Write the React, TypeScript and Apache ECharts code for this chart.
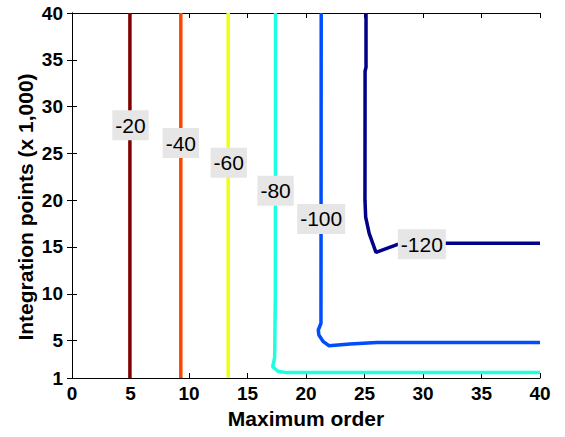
import React, { useEffect, useRef } from "react";
import * as echarts from "echarts";

// Contour levels and their colours (jet colormap)
const levels = [-20, -40, -60, -80, -100, -120];
const levelColors = ["#800000", "#ff4600", "#eeff10", "#1effe0", "#004cff", "#000088"];

// Contour line vertices [maximum order, integration points (x1000)]
const contour20 = [[4.95, 1], [4.95, 40]];
const contour40 = [[9.3, 1], [9.3, 40]];
const contour60 = [[13.35, 1], [13.35, 40]];
const contour80 = [[17.4, 40], [17.38, 10], [17.32, 3.2], [17.15, 2.2], [17.6, 1.72], [18.2, 1.6], [40, 1.6]];
const contour100 = [[21.3, 40], [21.28, 6.85], [21.05, 6.13], [21.1, 5.6], [21.48, 4.88], [21.97, 4.45], [23.76, 4.63], [26.04, 4.8], [40, 4.8]];
const contour120 = [[25.13, 40], [25.13, 34.2], [25.05, 33.8], [25.04, 20], [25.1, 18.2], [25.4, 16.46], [25.98, 14.43], [27.84, 15.28], [31.97, 15.39], [40, 15.39]];
const contours = [contour20, contour40, contour60, contour80, contour100, contour120];

// Contour label positions
const labelX = [5.0, 9.3, 13.4, 17.4, 21.3, 29.9];
const labelY = [28.0, 26.1, 24.0, 21.0, 18.0, 15.3];

// Axis ticks and titles
const xTicks = [0, 5, 10, 15, 20, 25, 30, 35, 40];
const yTicks = [1, 5, 10, 15, 20, 25, 30, 35, 40];
const xTitle = "Maximum order";
const yTitle = "Integration points (x 1,000)";

const FONT = "'Liberation Sans', Arial, sans-serif";

export default function App() {
  const ref = useRef<HTMLDivElement>(null);
  useEffect(() => {
    if (!ref.current) return;
    const chart = echarts.init(ref.current, undefined, { renderer: "svg" });
    const tickStyle = { show: true, inside: true, length: 5, lineStyle: { color: "#000", width: 1 } };
    const lineStyle = { show: true, lineStyle: { color: "#000", width: 1 } };
    const labelStyle = { color: "#000", fontSize: 19, fontWeight: "bold", fontFamily: FONT };
    const lineSeries = contours.map((pts, i) => ({
      type: "line",
      xAxisIndex: 0,
      yAxisIndex: 0,
      data: pts,
      symbol: "none",
      smooth: false,
      z: 2,
      lineStyle: { color: levelColors[i], width: 3.5 },
    }));
    chart.setOption({
      animation: false,
      grid: { left: 72, right: 25, top: 13, bottom: 59, containLabel: false },
      graphic: [
        {
          type: "text",
          x: 25,
          y: 207,
          rotation: Math.PI / 2,
          style: {
            text: yTitle,
            fill: "#000",
            font: `bold 21px ${FONT}`,
            textAlign: "center",
            textVerticalAlign: "middle",
          },
        },
      ],
      xAxis: [
        {
          type: "value",
          min: xTicks[0],
          max: xTicks[xTicks.length - 1],
          interval: 5,
          position: "bottom",
          axisLine: lineStyle,
          axisTick: tickStyle,
          splitLine: { show: false },
          axisLabel: { ...labelStyle, margin: 6 },
          name: xTitle,
          nameLocation: "middle",
          nameGap: 27,
          nameTextStyle: { color: "#000", fontSize: 21, fontWeight: "bold", fontFamily: FONT },
        },
        {
          type: "value",
          min: xTicks[0],
          max: xTicks[xTicks.length - 1],
          interval: 5,
          position: "top",
          axisLine: lineStyle,
          axisTick: tickStyle,
          splitLine: { show: false },
          axisLabel: { show: false },
        },
      ],
      yAxis: [
        {
          type: "value",
          min: 1,
          max: 40,
          position: "left",
          axisLine: lineStyle,
          axisTick: { ...tickStyle, customValues: yTicks },
          splitLine: { show: false },
          axisLabel: { ...labelStyle, margin: 9, customValues: yTicks },
        },
        {
          type: "value",
          min: 1,
          max: 40,
          position: "right",
          axisLine: lineStyle,
          axisTick: { ...tickStyle, customValues: yTicks },
          splitLine: { show: false },
          axisLabel: { show: false, customValues: yTicks },
        },
      ],
      series: [
        ...lineSeries,
        {
          type: "scatter",
          xAxisIndex: 0,
          yAxisIndex: 0,
          symbolSize: 1,
          itemStyle: { color: "rgba(0,0,0,0)" },
          z: 10,
          silent: true,
          data: levels.map((lv, i) => ({ value: [labelX[i], labelY[i]], name: String(lv) })),
          label: {
            show: true,
            position: "inside",
            formatter: (p: any) => p.name,
            color: "#000",
            opacity: 1,
            textBorderWidth: 0,
            textBorderColor: "transparent",
            fontSize: 21,
            fontFamily: FONT,
            lineHeight: 24,
            backgroundColor: "#e6e6e6",
            padding: [3, 3, 3, 3],
          },
        },
      ],
    });
    return () => chart.dispose();
  }, []);
  return (
    <div
      ref={ref}
      style={{ position: "fixed", left: 0, top: 0, width: 565, height: 437, background: "#fff" }}
    />
  );
}
